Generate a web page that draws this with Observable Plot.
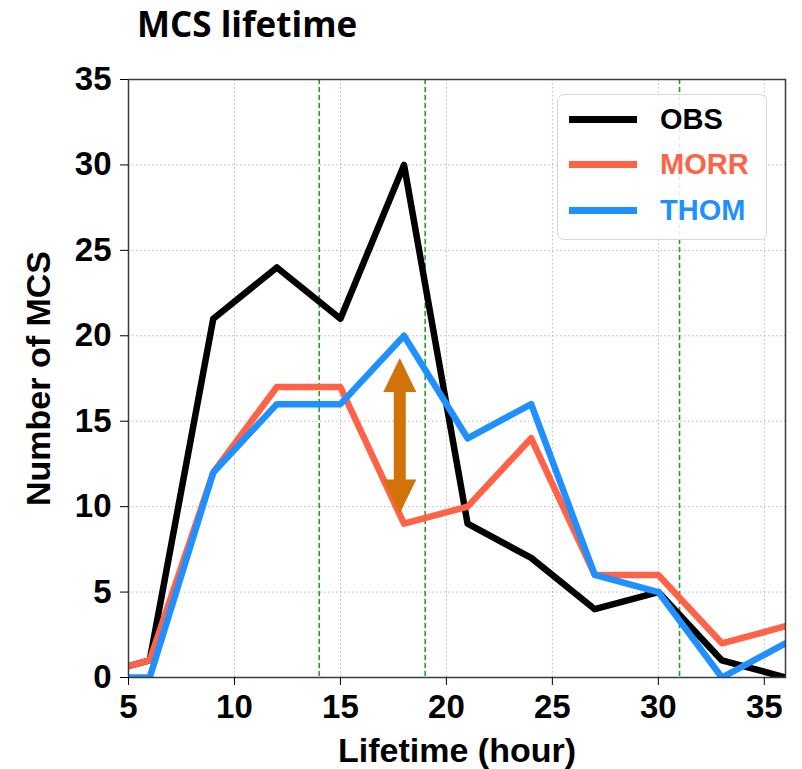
<!DOCTYPE html>
<html>
<head>
<meta charset="utf-8">
<script src="https://cdn.jsdelivr.net/npm/d3@7"></script>
<script src="https://cdn.jsdelivr.net/npm/@observablehq/plot@0.6"></script>
<style>
  html, body { margin: 0; padding: 0; background: white; }
  #wrap { position: relative; width: 802px; height: 769px; overflow: hidden; }
  #title { height: 55px; padding-left: 137px; font-family: "Open Sans", sans-serif; font-weight: 700; font-size: 35px; line-height: 48px; color: black; }
  #legend { position: absolute; left: 557px; top: 94px; width: 210px; height: 146px; box-sizing: border-box;
    border: 1.5px solid #d8d8d8; border-radius: 7px; background: rgba(255,255,255,0.88); }
  .entry { position: absolute; left: 0; height: 40px; width: 210px; }
  .entry .sw { position: absolute; left: 11px; width: 68px; height: 7px; top: 17px; }
  .entry .lab { position: absolute; left: 102px; top: 0; line-height: 40px; font-family: "Liberation Sans", Arial, sans-serif; font-weight: bold; font-size: 29px; }
</style>
</head>
<body>
<div id="wrap">
  <div id="title">MCS lifetime</div>
  <div id="chart"></div>
  <div id="legend"></div>
</div>
<script>
// Data: bin centres (hours) and counts
const lifetime = [3, 6, 9, 12, 15, 18, 21, 24, 27, 30, 33, 36];
const obs  = [0, 1, 21, 24, 21, 30, 9, 7, 4, 5, 1, 0];
const morr = [0, 1, 12, 17, 17, 9, 10, 14, 6, 6, 2, 3];
const thom = [0, 0, 12, 16, 16, 20, 14, 16, 6, 5, 0, 2];

const seriesNames = ["OBS", "MORR", "THOM"];
const seriesColors = ["#000000", "#ff6347", "#1e90ff"];
const seriesValues = [obs, morr, thom];

const xTicks = [5, 10, 15, 20, 25, 30, 35];
const yTicks = [0, 5, 10, 15, 20, 25, 30, 35];
const greenLines = [14, 19, 31];

// Double arrow annotation
const arrowX = [17.8];
const arrowTop = [18.7];
const arrowBottom = [9.6];

const rows = [];
seriesNames.forEach((name, i) => {
  lifetime.forEach((x, j) => rows.push({series: name, x, y: seriesValues[i][j]}));
});

const headUp = {draw(ctx) { ctx.moveTo(0, 0); ctx.lineTo(16.5, 34); ctx.lineTo(-16.5, 34); ctx.closePath(); }};
const headDown = {draw(ctx) { ctx.moveTo(0, 0); ctx.lineTo(16.5, -34); ctx.lineTo(-16.5, -34); ctx.closePath(); }};
const arrowColor = "#d2730a";

const lineMarks = seriesNames.map((name, i) =>
  Plot.line(rows.filter(d => d.series === name), {x: "x", y: "y", stroke: seriesColors[i], strokeWidth: 6.5, clip: true})
);

const chart = Plot.plot({
  width: 802,
  height: 714,
  marginLeft: 128,
  marginRight: 17,
  marginTop: 24,
  marginBottom: 92,
  style: {fontFamily: "'Liberation Sans', Arial, sans-serif", fontWeight: "bold", fontSize: "33px", color: "black", background: "white"},
  x: {domain: [5, 36]},
  y: {domain: [0, 35]},
  marks: [
    Plot.gridX(xTicks, {stroke: "#999", strokeOpacity: 0.7, strokeDasharray: "1.5,2.5", strokeWidth: 1}),
    Plot.gridY(yTicks, {stroke: "#999", strokeOpacity: 0.7, strokeDasharray: "1.5,2.5", strokeWidth: 1}),
    Plot.ruleX(greenLines, {stroke: "#22a022", strokeWidth: 1.6, strokeDasharray: "5,3"}),
    ...lineMarks,
    Plot.ruleX(arrowX, {x: d => d, y1: arrowBottom[0] + 1, y2: arrowTop[0] - 1, stroke: arrowColor, strokeWidth: 12}),
    Plot.dot(arrowX, {x: d => d, y: arrowTop[0], symbol: headUp, r: 5, fill: arrowColor, stroke: "none"}),
    Plot.dot(arrowX, {x: d => d, y: arrowBottom[0], symbol: headDown, r: 5, fill: arrowColor, stroke: "none"}),
    Plot.frame({stroke: "#3a3a3a", strokeWidth: 1.5}),
    Plot.axisX(xTicks, {tickSize: 8, tickPadding: 9, label: "Lifetime (hour)", labelAnchor: "center", labelOffset: 84, labelArrow: "none"}),
    Plot.axisY(yTicks, {tickSize: 8, tickPadding: 9, label: "Number of MCS", labelAnchor: "center", labelOffset: 103, labelArrow: "none"})
  ]
});
d3.select(chart).selectAll('[aria-label="x-axis label"] text, [aria-label="y-axis label"] text').attr("font-size", 34);
document.getElementById("chart").appendChild(chart);

// Legend
const legend = document.getElementById("legend");
const entryTops = [4, 49, 95];
seriesNames.forEach((name, i) => {
  const e = document.createElement("div");
  e.className = "entry";
  e.style.top = entryTops[i] + "px";
  e.innerHTML = `<div class="sw" style="background:${seriesColors[i]}"></div><div class="lab" style="color:${seriesColors[i]}">${name}</div>`;
  legend.appendChild(e);
});
</script>
</body>
</html>
